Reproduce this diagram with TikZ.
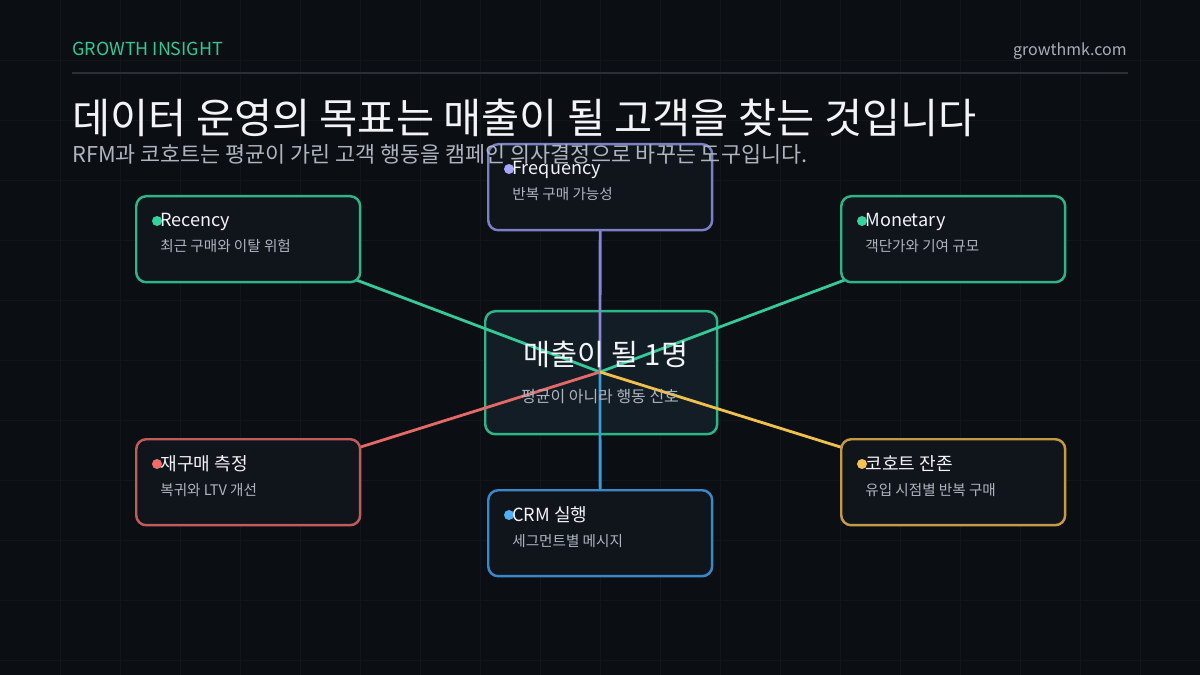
\documentclass[tikz,border=0pt]{standalone}
\usepackage{fontspec}
\setmainfont{Noto Sans CJK KR}
\usetikzlibrary{calc,positioning}

\definecolor{bgdark}{HTML}{0B0E13}
\definecolor{gridline}{HTML}{12161C}
\definecolor{rulegray}{HTML}{2A3038}
\definecolor{headgreen}{HTML}{2EC995}
\definecolor{urlgray}{HTML}{A9AFB8}
\definecolor{titlewhite}{HTML}{F2F4F7}
\definecolor{subgray}{HTML}{AEB5BF}
\definecolor{cardfill}{HTML}{10151C}
\definecolor{hubfill}{HTML}{131D26}
% border / line / dot colours
\definecolor{recbd}{HTML}{2DB585}\definecolor{recln}{HTML}{34C997}\definecolor{recdt}{HTML}{34D399}
\definecolor{frqbd}{HTML}{7C7FC4}\definecolor{frqln}{HTML}{8A86D6}\definecolor{frqdt}{HTML}{A5A8FF}
\definecolor{repbd}{HTML}{C25B5B}\definecolor{repln}{HTML}{E46A67}\definecolor{repdt}{HTML}{F16B6B}
\definecolor{crmbd}{HTML}{3A88C8}\definecolor{crmln}{HTML}{3B9AD8}\definecolor{crmdt}{HTML}{4FB0F5}
\definecolor{cohbd}{HTML}{C49A45}\definecolor{cohln}{HTML}{F0C04E}\definecolor{cohdt}{HTML}{F7C24F}

\pgfdeclarelayer{back}
\pgfdeclarelayer{mid}
\pgfsetlayers{back,mid,main}

\begin{document}
\begin{tikzpicture}[x=0.02cm, y=-0.02cm,
    card/.style={draw, fill=cardfill, rounded corners=0.2cm, line width=1.4pt,
        minimum width=4.48cm, minimum height=1.72cm, inner sep=0pt, anchor=north west},
    cardtitle/.style={anchor=base west, inner sep=0pt, text=titlewhite,
        font=\fontsize{10.3pt}{12pt}\selectfont},
    cardsub/.style={anchor=base west, inner sep=0pt, text=subgray,
        font=\fontsize{8.3pt}{10pt}\selectfont},
    link/.style={line width=1.6pt}]

    % Background and faint grid
    \useasboundingbox (0,0) rectangle (1200,675);
    \begin{pgfonlayer}{back}
        \fill[bgdark] (0,0) rectangle (1200,675);
        \foreach \gx in {60,120,...,1140} \draw[gridline, line width=0.4pt] (\gx,0) -- (\gx,675);
        \foreach \gy in {60,120,...,660} \draw[gridline, line width=0.4pt] (0,\gy) -- (1200,\gy);
        % centre box
        \node[card, draw=recbd, fill=hubfill, minimum width=4.64cm, minimum height=2.46cm] (hub) at (484,310) {};
    \end{pgfonlayer}

    % Header
    \node[anchor=base west, inner sep=0pt, text=headgreen, font=\fontsize{10.2pt}{12pt}\selectfont] (brand) at (72,56) {GROWTH INSIGHT};
    \node[anchor=base east, inner sep=0pt, text=urlgray, font=\fontsize{9.1pt}{11pt}\selectfont] (url) at (1127,56) {growthmk.com};
    \draw[rulegray, line width=1pt] (72,73) -- (1128,73);

    % Cards
    \foreach \nm/\px/\py/\bd/\dt/\ttl/\sub in {
        rec/135/195/recbd/recdt/Recency/최근 구매와 이탈 위험,
        frq/487/143/frqbd/frqdt/Frequency/반복 구매 가능성,
        mon/840/195/recbd/recdt/Monetary/객단가와 기여 규모,
        rep/135/438/repbd/repdt/재구매 측정/복귀와 LTV 개선,
        crm/487/489/crmbd/crmdt/CRM 실행/세그먼트별 메시지,
        coh/840/438/cohbd/cohdt/코호트 잔존/유입 시점별 반복 구매}{
        \node[card, draw=\bd] (\nm) at (\px,\py) {};
        \fill[\dt] ($(\nm.north west)+(22,26)$) circle (0.1cm);
        \node[cardtitle] (\nm-t) at ($(\nm.north west)+(25,32)$) {\ttl};
        \node[cardsub] (\nm-s) at ($(\nm.north west)+(25,57)$) {\sub};
    }

    % Links from the hub point to every card
    \coordinate (hc) at (600,372);
    \begin{pgfonlayer}{mid}
        \draw[link, recln] (hc) -- (rec.center);
        \draw[link, frqln] (hc) -- (frq.center);
        \draw[link, recln] (hc) -- (mon.center);
        \draw[link, repln] (hc) -- (rep.center);
        \draw[link, crmln] (hc) -- (crm.center);
        \draw[link, cohln] (hc) -- (coh.center);
    \end{pgfonlayer}

    % Hub text
    \node[anchor=base, inner sep=0pt, text=titlewhite, font=\fontsize{16.7pt}{19pt}\selectfont] (hub-t) at (606,366) {매출이 될 1명};
    \node[anchor=base, inner sep=0pt, text=subgray, font=\fontsize{9.1pt}{11pt}\selectfont] (hub-s) at (600,402) {평균이 아니라 행동 신호};

    % Title and subtitle
    \node[anchor=base west, inner sep=0pt, text=titlewhite, font=\fontsize{23.6pt}{28pt}\selectfont] (title) at (72,134) {데이터 운영의 목표는 매출이 될 고객을 찾는 것입니다};
    \node[anchor=base west, inner sep=0pt, text=subgray, font=\fontsize{12.4pt}{14pt}\selectfont] (subtitle) at (72,163) {RFM과 코호트는 평균이 가린 고객 행동을 캠페인 의사결정으로 바꾸는 도구입니다.};
\end{tikzpicture}
\end{document}
